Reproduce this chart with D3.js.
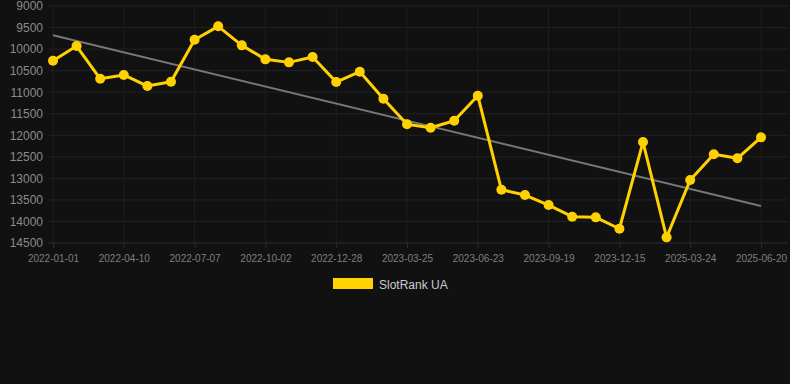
<!DOCTYPE html>
<html><head><meta charset="utf-8">
<script src="https://cdn.jsdelivr.net/npm/d3@7"></script>
<style>html,body{margin:0;padding:0;background:#111111;}svg{display:block;}</style>
</head><body>
<script>
const dates = ["2022-01-01","2022-02-03","2022-03-08","2022-04-10","2022-05-09","2022-06-08","2022-07-07","2022-08-05","2022-09-03","2022-10-02","2022-10-31","2022-11-29","2022-12-28","2023-01-26","2023-02-24","2023-03-25","2023-04-24","2023-05-24","2023-06-23","2023-07-22","2023-08-20","2023-09-19","2023-10-18","2023-11-16","2023-12-15","2024-01-13","2025-02-22","2025-03-24","2025-04-23","2025-05-22","2025-06-20"];
const rankValues = [10270,9930,10690,10600,10857,10757,9782,9472,9913,10238,10308,10184,10764,10524,11151,11746,11824,11662,11082,13263,13387,13619,13890,13905,14169,12157,14369,13039,12442,12535,12048];
const trendValues = [9680,13640];
const yTicks = [9000,9500,10000,10500,11000,11500,12000,12500,13000,13500,14000,14500];
const seriesName = "SlotRank UA";

const W = 790, H = 384;
const svg = d3.select("body").append("svg").attr("width", W).attr("height", H);
svg.append("rect").attr("width", W).attr("height", H).attr("fill", "#111111");

const x = d3.scalePoint().domain(dates).range([53, 761]);
const y = d3.scaleLinear().domain([9000, 14500]).range([6, 243]);

// horizontal grid
svg.append("g").selectAll("line").data(yTicks).join("line")
  .attr("x1", 48).attr("x2", 788)
  .attr("y1", d => y(d)).attr("y2", d => y(d))
  .attr("stroke", d => d === 14500 ? "#2c2c2c" : "#222222").attr("stroke-width", 1);

// vertical grid at labelled ticks
const labelDates = dates.filter((d, i) => i % 3 === 0);
svg.append("g").selectAll("line").data(labelDates).join("line")
  .attr("x1", d => x(d)).attr("x2", d => x(d))
  .attr("y1", 6).attr("y2", 243)
  .attr("stroke", "#1f1f1f").attr("stroke-width", 1);

// y axis
const yAxis = d3.axisLeft(y).tickValues(yTicks).tickSize(0).tickPadding(0).tickFormat(d3.format("d"));
const gy = svg.append("g").attr("transform", "translate(43,0)").call(yAxis);
gy.select(".domain").remove();
gy.selectAll("text").attr("fill", "#8a8a8a").attr("font-family", "Arial, 'Liberation Sans', sans-serif").attr("font-size", 12);

// x axis
const xAxis = d3.axisBottom(x).tickValues(labelDates).tickSize(5).tickPadding(7);
const gx = svg.append("g").attr("transform", "translate(0,243)").call(xAxis);
gx.select(".domain").remove();
gx.selectAll("line").attr("stroke", "#2c2c2c");
gx.selectAll("text").attr("fill", "#7f7f7f").attr("font-family", "Arial, 'Liberation Sans', sans-serif").attr("font-size", 10);

// trend line
svg.append("line")
  .attr("x1", x(dates[0])).attr("x2", x(dates[dates.length - 1]))
  .attr("y1", y(trendValues[0])).attr("y2", y(trendValues[1]))
  .attr("stroke", "#777777").attr("stroke-width", 2);

// series line
const line = d3.line().x((d, i) => x(dates[i])).y(d => y(d));
svg.append("path").datum(rankValues).attr("d", line)
  .attr("fill", "none").attr("stroke", "#FFD100").attr("stroke-width", 3).attr("stroke-linejoin", "round");
svg.append("g").selectAll("circle").data(rankValues).join("circle")
  .attr("cx", (d, i) => x(dates[i])).attr("cy", d => y(d)).attr("r", 5)
  .attr("fill", "#FFD100");

// legend
svg.append("rect").attr("x", 333).attr("y", 278).attr("width", 40).attr("height", 11).attr("fill", "#FFD100");
svg.append("text").attr("x", 379).attr("y", 288.5).text(seriesName)
  .attr("fill", "#cccccc").attr("font-family", "Arial, 'Liberation Sans', sans-serif").attr("font-size", 12);
</script>
</body></html>
